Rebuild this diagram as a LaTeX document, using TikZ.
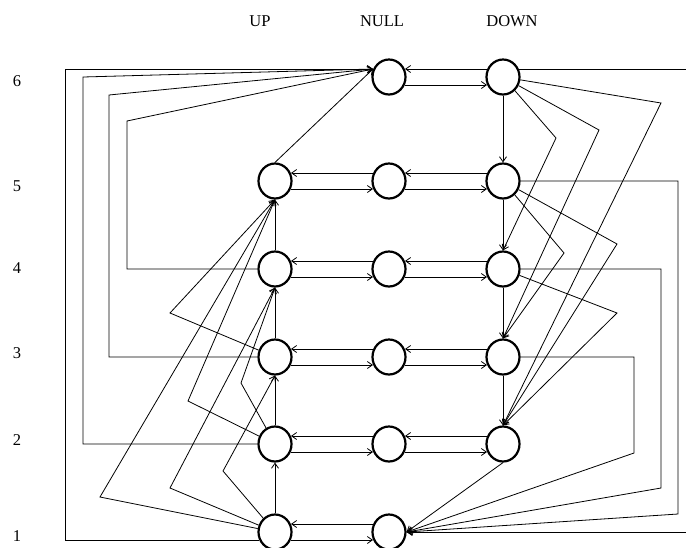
\documentclass[tikz,border=0pt]{standalone}
\usepackage{fontspec}
\setmainfont{Liberation Serif}
\usetikzlibrary{arrows.meta,shapes.geometric}
\begin{document}
\begin{tikzpicture}[x=1pt,y=-1pt,
  state/.style={ellipse,draw,line width=2.2pt,minimum width=33pt,minimum height=35pt,inner sep=0pt},
  conn/.style={line width=0.8pt,-{Straight Barb[length=5pt,width=7pt]}},
  lbl/.style={font=\fontsize{16.5}{18}\selectfont,inner sep=0pt}]
\clip (0,0) rectangle (686,547);

% column headers and level numbers
\node[lbl] (hup)   at (260,21) {UP};
\node[lbl] (hnull) at (382,21) {NULL};
\node[lbl] (hdown) at (512,21) {DOWN};
\node[lbl] (r6) at (17,81)  {6};
\node[lbl] (r5) at (17,186) {5};
\node[lbl] (r4) at (17,268) {4};
\node[lbl] (r3) at (17,353) {3};
\node[lbl] (r2) at (17,440) {2};
\node[lbl] (r1) at (17,536) {1};

% states
\foreach \r/\y in {5/181,4/269,3/357,2/444,1/532}
  \node[state] (U\r) at (275,\y) {};
\foreach \r/\y in {6/77,5/181,4/269,3/357,2/444,1/532}
  \node[state] (N\r) at (389,\y) {};
\foreach \r/\y in {6/77,5/181,4/269,3/357,2/444}
  \node[state] (D\r) at (503,\y) {};

% horizontal transitions within a level
\foreach \a/\b in {U5/N5,N5/D5,U4/N4,N4/D4,U3/N3,N3/D3,U2/N2,N2/D2,U1/N1,N6/D6} {
  \draw[conn] ([shift={(-16,-8)}]\b.center) -- ([shift={(16,-8)}]\a.center);
  \draw[conn] ([shift={(16,8)}]\a.center) -- ([shift={(-16,8)}]\b.center);
}

% one-level steps
\draw[conn] (U1) -- (U2);
\draw[conn] (U2) -- (U3);
\draw[conn] (U3) -- (U4);
\draw[conn] (U4) -- (U5);
\draw[conn] (D6) -- (D5);
\draw[conn] (D5) -- (D4);
\draw[conn] (D4) -- (D3);
\draw[conn] (D3) -- (D2);

% multi-level jumps upward
\draw[conn] (U1) -- (100,497) -- (U5.south);
\draw[conn] (U1) -- (170,488) -- (U4.south);
\draw[conn] (U1) -- (223,471) -- (U3.south);
\draw[conn] (U2) -- (188,401) -- (U5.south);
\draw[conn] (U2) -- (241,383) -- (U4.south);
\draw[conn] (U3) -- (170,313) -- (U5.south);

% multi-level jumps downward
\draw[conn] (D6) -- (661,103) -- (D2.north);
\draw[conn] (D6) -- (599,130) -- (D3.north);
\draw[conn] (D6) -- (556,138) -- (D4.north);
\draw[conn] (D5) -- (617,244) -- (D2.north);
\draw[conn] (D5) -- (564,253) -- (D3.north);
\draw[conn] (D4) -- (617,313) -- (D2.north);

% jumps to the top NULL state
\coordinate (N6in) at ([shift={(-16,-8)}]N6.center);
\draw[conn] ([shift={(-16,8)}]U1.center) -| (65,69) -- (N6in);
\draw[conn] (U2.west) -| (83,77) -- (N6in);
\draw[conn] (U3.west) -| (109,95) -- (N6in);
\draw[conn] (U4.west) -| (127,121) -- (N6in);
\draw[conn] (U5.north) -- (N6in);

% jumps to the bottom NULL state
\draw[conn] ([shift={(16,-8)}]D6.center) -| (700,532) -- (N1.east);
\draw[conn] (D5.east) -| (678,514) -- (N1.east);
\draw[conn] (D4.east) -| (661,488) -- (N1.east);
\draw[conn] (D3.east) -| (634,453) -- (N1.east);
\draw[conn] (D2.south) -- (N1.east);
\end{tikzpicture}
\end{document}
